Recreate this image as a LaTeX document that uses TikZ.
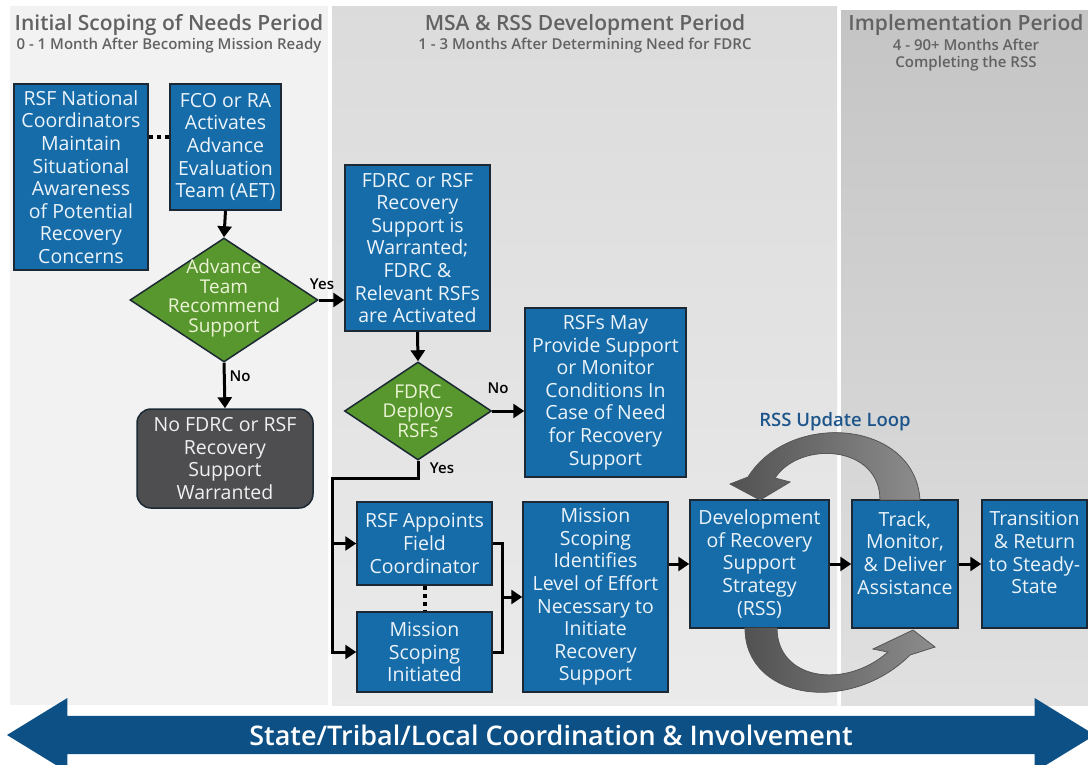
\documentclass[tikz,border=0pt]{standalone}
\usepackage{fontspec}
\setmainfont{Open Sans}[BoldFont={Open Sans Semibold}]
\usetikzlibrary{arrows.meta,shapes.geometric,shapes.arrows}

\definecolor{boxblue}{RGB}{21,108,168}
\definecolor{boxline}{RGB}{28,40,52}
\definecolor{boxtext}{RGB}{236,243,250}
\definecolor{diagreen}{RGB}{88,150,46}
\definecolor{diatext}{RGB}{236,244,214}
\definecolor{greybox}{RGB}{78,78,80}
\definecolor{bandblue}{RGB}{13,80,133}
\definecolor{loopblue}{RGB}{30,86,140}
\definecolor{titlegrey}{RGB}{98,98,98}

\newcommand{\boxfont}{\fontsize{19.5}{22.6}\selectfont}
\newcommand{\diafont}{\fontsize{19}{19.5}\selectfont}

\tikzset{
  box/.style={draw=boxline, line width=1.5pt, fill=boxblue, text=boxtext,
    align=center, inner sep=0pt, font=\boxfont},
  endbox/.style={box, fill=greybox, rounded corners=14pt, text=black!6},
  decision/.style={diamond, draw=boxline, line width=1.5pt, fill=diagreen, inner sep=0pt},
  dtext/.style={text=diatext, align=center, font=\diafont},
  conn/.style={line width=3pt, -{Triangle[length=11pt,width=14pt]}},
  bar/.style={line width=3pt},
  dots/.style={line width=4pt, dash pattern=on 4pt off 4pt},
  answer/.style={font=\bfseries\fontsize{15}{15}\selectfont},
  ptitle/.style={text=titlegrey, font=\bfseries\fontsize{21}{24}\selectfont},
  psub/.style={text=titlegrey, align=center, font=\bfseries\fontsize{15}{16.5}\selectfont},
  loop/.style={draw=black!65, line width=0.8pt, left color=black!68, right color=black!45},
}

\begin{document}
\begin{tikzpicture}[x=1pt,y=-1pt]
  \useasboundingbox (0,0) rectangle (1088,764);
  \clip (0,0) rectangle (1088,764);
  \fill[white] (0,0) rectangle (1088,764);

  % period panels
  \fill[black!5] (10,6) rectangle (328,705);
  \fill[top color=black!14, bottom color=black!8] (332,6) rectangle (837,705);
  \fill[top color=black!23, bottom color=black!12] (841,10) rectangle (1088,705);

  \node[ptitle] (title1) at (169,25) {Initial Scoping of Needs Period};
  \node[psub] (sub1) at (169,46) {0 - 1 Month After Becoming Mission Ready};
  \node[ptitle] (title2) at (585,25) {MSA \& RSS Development Period};
  \node[psub] (sub2) at (585,46) {1 - 3 Months After Determining Need for FDRC};
  \node[ptitle] (title3) at (966,25) {Implementation Period};
  \node[psub] (sub3) at (966,55) {4 - 90+ Months After\\Completing the RSS};

  % first period
  \node[box, minimum width=134pt, minimum height=186pt] (national) at (81,177)
    {RSF National\\Coordinators\\Maintain\\Situational\\Awareness\\of Potential\\Recovery\\Concerns};
  \node[box, minimum width=111pt, minimum height=126pt] (fco) at (225.5,147)
    {FCO or RA\\Activates\\Advance\\Evaluation\\Team (AET)};
  \node[decision, minimum width=188pt, minimum height=124pt] (advance) at (224,300) {};
  \node[dtext] (advancetext) at (224,298) {Advance\\Team\\Recommend\\Support};
  \node[endbox, minimum width=176pt, minimum height=99pt] (nosupport) at (225,458.5)
    {No FDRC or RSF\\Recovery\\Support\\Warranted};

  % second period
  \node[box, minimum width=145pt, minimum height=166pt] (warranted) at (417.5,248)
    {FDRC or RSF\\Recovery\\Support is\\Warranted;\\FDRC \&\\Relevant RSFs\\are Activated};
  \node[decision, minimum width=147pt, minimum height=98pt] (deploys) at (418,411) {};
  \node[dtext] (deploystext) at (418,411) {FDRC\\Deploys\\RSFs};
  \node[box, minimum width=161pt, minimum height=169pt] (maymonitor) at (605.5,392.5)
    {RSFs May\\Provide Support\\or Monitor\\Conditions In\\Case of Need\\for Recovery\\Support};
  \node[box, minimum width=135pt, minimum height=83pt] (appoints) at (424.5,543.5)
    {RSF Appoints\\Field\\Coordinator};
  \node[box, minimum width=135pt, minimum height=80pt] (initiated) at (424.5,652)
    {Mission\\Scoping\\Initiated};
  \node[box, minimum width=145pt, minimum height=190pt] (identifies) at (595.5,597)
    {Mission\\Scoping\\Identifies\\Level of Effort\\Necessary to\\Initiate\\Recovery\\Support};
  \node[box, minimum width=139pt, minimum height=128pt] (strategy) at (759.5,564)
    {Development\\of Recovery\\Support\\Strategy\\(RSS)};

  % third period
  \node[box, minimum width=106pt, minimum height=128pt] (track) at (905,564)
    {Track,\\Monitor,\\\& Deliver\\Assistance\\\mbox{}};
  \node[box, minimum width=105pt, minimum height=128pt] (steady) at (1034.5,564)
    {Transition\\\& Return\\to Steady-\\State\\\mbox{}};

  % connectors
  \draw[dots] ([yshift=10pt]fco.west) -- ([yshift=10pt]fco.west -| national.east);
  \draw[conn] (fco.south) -- (advance.north);
  \draw[conn] (advance.east) -- (advance.east -| warranted.west);
  \node[answer] (yes1) at (322,284) {Yes};
  \draw[conn] (advance.south) -- (nosupport.north);
  \node[answer] (no1) at (240,376) {No};
  \draw[conn] (warranted.south) -- (deploys.north);
  \draw[conn] (deploys.east) -- (deploys.east -| maymonitor.west);
  \node[answer] (no2) at (498,388) {No};

  \coordinate (split) at (332,478);
  \draw[conn] (deploys.south) |- (split) |- (initiated.west);
  \draw[conn] (split |- appoints.west) -- (appoints.west);
  \node[answer] (yes2) at (442,468) {Yes};
  \draw[dots] (appoints.south) -- (initiated.north);

  \coordinate (merge) at (502,597);
  \draw[bar] (appoints.east) -| (merge) |- (initiated.east);
  \draw[conn] (merge) -- (identifies.west);
  \draw[conn] (identifies.east |- strategy.west) -- (strategy.west);
  \draw[conn] (strategy.east) -- (track.west);
  \draw[conn] (track.east) -- (steady.west);

  % update loop
  \node[text=loopblue, font=\bfseries\fontsize{18.5}{20}\selectfont] (looplabel) at (835,422) {RSS Update Loop};
  \filldraw[loop] (920,500) .. controls (915,420) and (790,410) .. (748,477)
    -- (730,484) -- (760,500) -- (790,482) -- (775,478)
    .. controls (800,440) and (880,445) .. (880,500) -- cycle;
  \filldraw[loop] (745,628) .. controls (745,700) and (850,715) .. (910,655)
    -- (935,647) -- (913,630) -- (873,649) -- (888,652)
    .. controls (845,690) and (777,680) .. (777,628) -- cycle;

  % coordination band
  \node[double arrow, fill=bandblue, minimum height=1088pt, minimum width=74pt,
    double arrow head extend=10pt, double arrow tip angle=63, inner sep=0pt,
    text=white, font=\bfseries\fontsize{27}{29}\selectfont] (band) at (551,735)
    {State/Tribal/Local Coordination \& Involvement};
\end{tikzpicture}
\end{document}
